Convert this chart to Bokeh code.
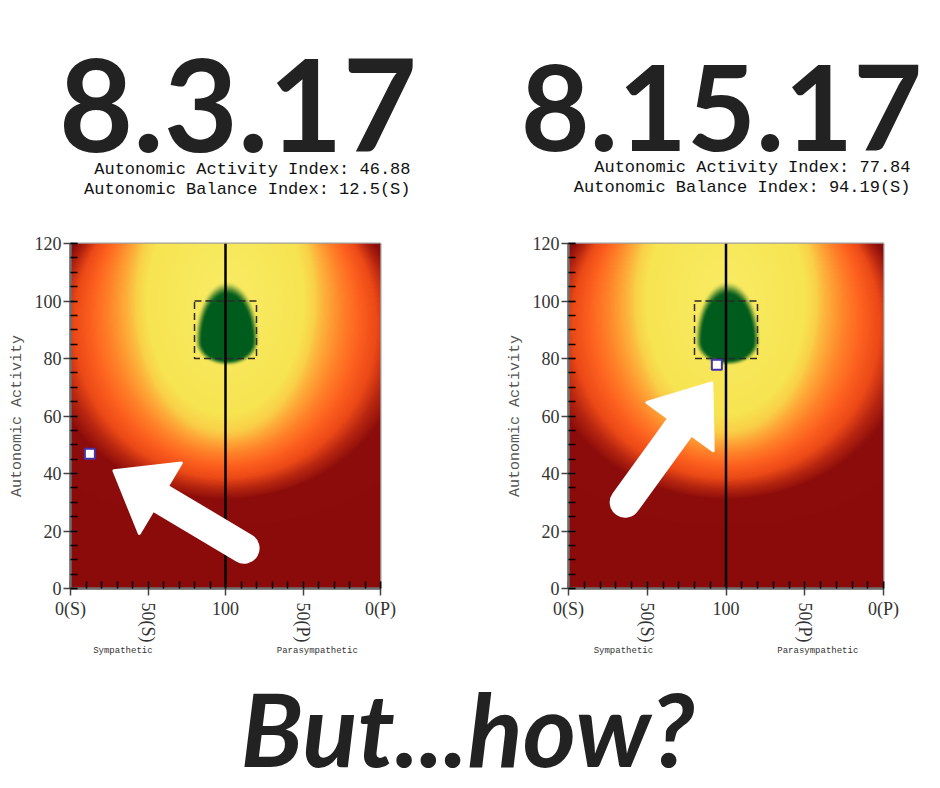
import numpy as np
from bokeh.plotting import figure
from bokeh.models import Label, FixedTicker, Range1d, LinearAxis
from bokeh.layouts import column, row
from bokeh.embed import file_html
from bokeh.resources import INLINE

# ------------------ values ------------------
session_dates = ["8.3.17", "8.15.17"]
activity_index = [46.88, 77.84]
balance_index = [12.5, 94.19]
balance_side = ["S", "S"]

x_tick_values = [0, 50, 100, 150, 200]
x_tick_labels = ["0(S)", "50(S)", "100", "50(P)", "0(P)"]
x_tick_rotated = [False, True, False, True, False]
y_tick_values = [0, 20, 40, 60, 80, 100, 120]
x_minor_step = 10
y_minor_step = 5
side_names = ["Sympathetic", "Parasympathetic"]
headline = "But...how?"

target_left, target_right = 80, 120
target_bottom, target_top = 80, 100
balance_center = 100

# colour field: level -> colour
field_levels = [0.0, 0.85, 0.97, 1.07, 1.18, 1.3, 1.42, 1.53, 1.64, 2.4]
field_colors = ["#F9EC66", "#F7E451", "#FAD048", "#FEA738", "#FF8129",
                "#FD601F", "#EC4917", "#B52510", "#8C0D0B", "#8B0B0B"]
# outline of each level: centre y, half width, half height (data units)
shape_levels = [0.0, 1.0, 1.6, 2.4]
shape_cy = [100, 100, 88, 80]
shape_hw = [0, 60, 114, 186]
shape_hh = [0, 47, 56, 68]

# green optimal zone
green_cx, green_cy = 101, 86
green_half_w = 19.5
green_half_h_low, green_half_h_high = 8.0, 19.5
green_color = "#005C1C"

# white arrows (tail centre, tip) in data units
arrow_tail_x = [112, 36]
arrow_tail_y = [14, 30]
arrow_tip_x = [28, 91]
arrow_tip_y = [41, 71.5]

# ------------------ layout (page pixels, origin at top-left) ------------------
PAGE_W = 940
TOP_H = 223
PLOT_H = 430
BOTTOM_H = 135
panels = [
    dict(fig_w=470, fw=310, fh=345, bl=70, bt=19, title_size=128,
         title_cx=237.5, title_base=150, idx_right=410, idx_base=[174, 194]),
    dict(fig_w=470, fw=315, fh=345, bl=98, bt=20, title_size=119,
         title_cx=721, title_base=150, idx_right=910, idx_base=[172, 192]),
]
NBSP = "\u00a0"
# measured shift of the drawn baseline below the requested one (fraction of font size)
LATO_SHIFT = 0.355
MONO_SHIFT = 0.27
HEADLINE_SIZE = 102
HEADLINE_BASE = 757


def hex_rgb(h):
    h = h.lstrip("#")
    return [int(h[i:i + 2], 16) for i in (0, 2, 4)]


def field_image(nx, ny):
    xs = (np.arange(nx) + 0.5) / nx * 200
    ys = (np.arange(ny) + 0.5) / ny * 120
    X, Y = np.meshgrid(xs, ys)
    lev = np.full(X.shape, shape_levels[-1], dtype=float)
    for s in np.linspace(shape_levels[-1], 0.005, 300):
        cy = np.interp(s, shape_levels, shape_cy)
        hw = np.interp(s, shape_levels, shape_hw)
        hh = np.interp(s, shape_levels, shape_hh)
        inside = ((X - balance_center) / hw) ** 2 + ((Y - cy) / hh) ** 2 <= 1.0
        lev[inside] = s
    cols = np.array([hex_rgb(c) for c in field_colors], dtype=float)
    rgb = np.stack([np.interp(lev, field_levels, cols[:, k]) for k in range(3)], axis=-1)
    gh = np.where(Y < green_cy, green_half_h_low, green_half_h_high)
    dg = np.sqrt(((X - green_cx) / green_half_w) ** 2 + ((Y - green_cy) / gh) ** 2)
    t = np.clip((1.08 - dg) / 0.26, 0, 1)
    a = (t * t * (3 - 2 * t))[..., None]
    g = np.array(hex_rgb(green_color), dtype=float)
    rgb = rgb * (1 - a) + g * a
    img = np.zeros((ny, nx), dtype=np.uint32)
    view = img.view(dtype=np.uint8).reshape((ny, nx, 4))
    view[..., :3] = np.clip(rgb, 0, 255).astype(np.uint8)
    view[..., 3] = 255
    return img


def build_panel(i):
    cfg = panels[i]
    fw, fh = cfg["fw"], cfg["fh"]
    br = cfg["fig_w"] - cfg["bl"] - fw
    bb = PLOT_H - cfg["bt"] - fh
    p = figure(x_range=Range1d(0, 200), y_range=Range1d(0, 120),
               frame_width=fw, frame_height=fh, title=None,
               min_border_left=cfg["bl"], min_border_right=br,
               min_border_top=cfg["bt"], min_border_bottom=bb,
               output_backend="svg", toolbar_location=None)
    p.grid.visible = False
    p.background_fill_color = "white"
    p.border_fill_color = "white"
    p.outline_line_color = "#a0a0a0"
    p.outline_line_width = 2
    kx, ky = fw / 200.0, fh / 120.0

    # heat field
    p.image_rgba(image=[field_image(fw, fh)], x=0, y=0, dw=200, dh=120)

    # target box
    p.quad(left=[target_left], right=[target_right], bottom=[target_bottom], top=[target_top],
           fill_alpha=0, line_color="#2a2a2a", line_width=1.5, line_dash="7 4")

    # balance centre line
    p.segment(x0=[balance_center], y0=[0], x1=[balance_center], y1=[120],
              line_color="black", line_width=2.5)

    # arrow (shape computed in pixel space from tail/tip)
    tx, ty = arrow_tail_x[i] * kx, arrow_tail_y[i] * ky
    hx, hy = arrow_tip_x[i] * kx, arrow_tip_y[i] * ky
    L = np.hypot(hx - tx, hy - ty)
    ux, uy = (hx - tx) / L, (hy - ty) / L
    nx_, ny_ = -uy, ux
    head_len, head_w, body_w = 54, 82, 31
    bx, by = hx - ux * head_len, hy - uy * head_len
    p.segment(x0=[tx / kx], y0=[ty / ky], x1=[(bx + ux * 4) / kx], y1=[(by + uy * 4) / ky],
              line_color="white", line_width=body_w, line_cap="round")
    tri_x = [hx / kx, (bx + nx_ * head_w / 2) / kx, (bx - nx_ * head_w / 2) / kx]
    tri_y = [hy / ky, (by + ny_ * head_w / 2) / ky, (by - ny_ * head_w / 2) / ky]
    p.patch(x=tri_x, y=tri_y, fill_color="white", line_color="white", line_width=3,
            line_join="round")

    # current position marker
    bx_val = balance_index[i] if balance_side[i] == "S" else 200 - balance_index[i]
    p.scatter(x=[bx_val], y=[activity_index[i]], marker="square", size=10,
              fill_color="white", line_color="#4433aa", line_width=2)

    # axes
    for ax in (p.xaxis[0], p.yaxis[0]):
        ax.axis_line_color = "#6e6e6e"
        ax.axis_line_width = 2.5
        ax.major_tick_line_color = "#444444"
        ax.major_tick_line_width = 1.5
        ax.major_tick_out = 7
        ax.major_tick_in = 7
        ax.minor_tick_line_color = "black"
        ax.minor_tick_line_width = 1.5
        ax.minor_tick_in = 7
        ax.minor_tick_out = 0
        ax.major_label_text_font = "Liberation Serif"
        ax.major_label_text_font_size = "18px"
        ax.major_label_text_color = "#333333"
    p.xaxis.ticker = FixedTicker(ticks=x_tick_values,
                                 minor_ticks=list(range(0, 201, x_minor_step)))
    p.xaxis.major_label_overrides = {v: ("" if r else lab) for v, lab, r in
                                     zip(x_tick_values, x_tick_labels, x_tick_rotated)}
    p.xaxis.major_label_standoff = 3
    p.yaxis.ticker = FixedTicker(ticks=y_tick_values,
                                 minor_ticks=list(range(0, 121, y_minor_step)))
    p.yaxis.major_label_standoff = 2
    p.yaxis.axis_label = "Autonomic Activity"
    p.yaxis.axis_label_text_font = "Liberation Mono"
    p.yaxis.axis_label_text_font_size = "15px"
    p.yaxis.axis_label_text_font_style = "normal"
    p.yaxis.axis_label_text_color = "#555555"
    p.yaxis.axis_label_standoff = 6

    # second axis below: the rotated tick labels and the side names
    rot_vals = [v for v, r in zip(x_tick_values, x_tick_rotated) if r]
    rot_labs = {v: lab for v, lab, r in zip(x_tick_values, x_tick_labels, x_tick_rotated) if r}
    ax2 = LinearAxis(ticker=FixedTicker(ticks=rot_vals, minor_ticks=[]),
                     major_label_overrides=rot_labs,
                     major_label_orientation=-np.pi / 2,
                     major_label_standoff=-19,
                     major_label_text_font="Liberation Serif",
                     major_label_text_font_size="18px",
                     major_label_text_color="#333333",
                     axis_line_color=None, major_tick_line_color=None,
                     minor_tick_line_color=None, major_tick_in=0, major_tick_out=0,
                     minor_tick_in=0, minor_tick_out=0,
                     axis_label=side_names[0] + NBSP * 23 + side_names[1],
                     axis_label_text_font="Liberation Mono",
                     axis_label_text_font_size="9px",
                     axis_label_text_font_style="normal",
                     axis_label_text_color="#333333",
                     axis_label_standoff=1)
    p.add_layout(ax2, "below")
    return p


left = build_panel(0)
right = build_panel(1)

# header: dates and indices (data units = page pixels)
top = figure(width=PAGE_W, height=TOP_H, x_range=Range1d(0, PAGE_W),
             y_range=Range1d(TOP_H, 0), x_axis_type=None, y_axis_type=None,
             title=None, min_border=0, output_backend="svg", toolbar_location=None)
top.outline_line_color = None
top.grid.visible = False
for i, cfg in enumerate(panels):
    fs = cfg["title_size"]
    top.add_layout(Label(x=cfg["title_cx"], y=cfg["title_base"] - LATO_SHIFT * fs,
                         text=session_dates[i],
                         text_align="center", text_baseline="alphabetic",
                         text_font="Lato", text_font_style="bold", text_font_size=f"{fs}px",
                         text_color="#222222"))
    lines = ["Autonomic Activity Index: " + f"{activity_index[i]:g}",
             "Autonomic Balance Index: " + f"{balance_index[i]:g}({balance_side[i]})"]
    for txt, base in zip(lines, cfg["idx_base"]):
        top.add_layout(Label(x=cfg["idx_right"], y=base - MONO_SHIFT * 17, text=txt,
                             text_align="right", text_baseline="alphabetic",
                             text_font="Liberation Mono", text_font_size="17px",
                             text_color="#111111"))

# footer
y0 = TOP_H + PLOT_H
bottom = figure(width=PAGE_W, height=BOTTOM_H, x_range=Range1d(0, PAGE_W),
                y_range=Range1d(y0 + BOTTOM_H, y0), x_axis_type=None, y_axis_type=None,
                title=None, min_border=0, output_backend="svg", toolbar_location=None)
bottom.outline_line_color = None
bottom.grid.visible = False
bottom.add_layout(Label(x=467, y=HEADLINE_BASE - LATO_SHIFT * HEADLINE_SIZE, text=headline,
                        text_align="center", text_baseline="alphabetic",
                        text_font="Lato", text_font_style="bold italic",
                        text_font_size=f"{HEADLINE_SIZE}px", text_color="#222222"))

layout = column(top, row(left, right), bottom)
open("out.html", "w").write(file_html(layout, INLINE))
